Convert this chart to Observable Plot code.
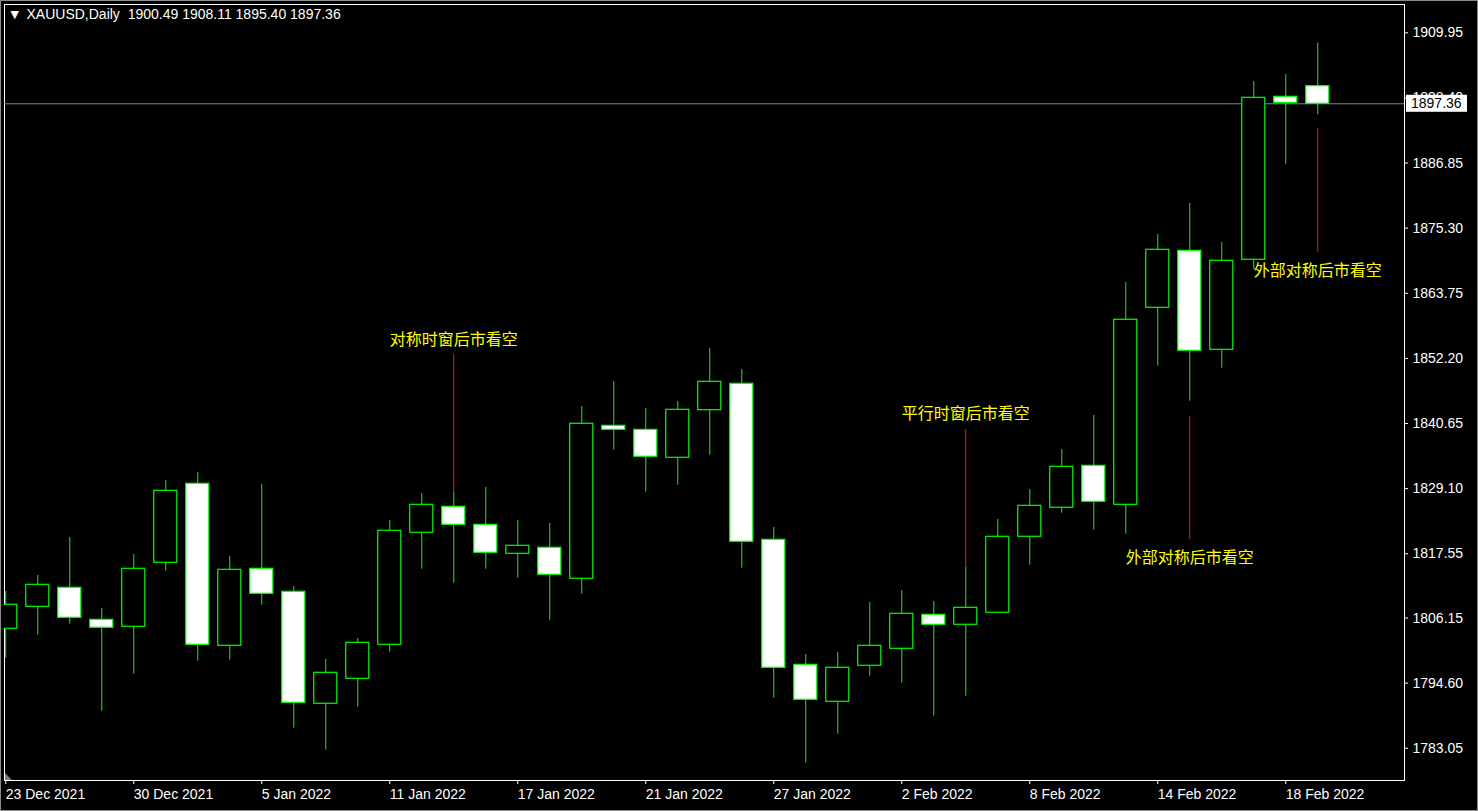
<!DOCTYPE html>
<html>
<head>
<meta charset="utf-8">
<script src="https://cdn.jsdelivr.net/npm/d3@7"></script>
<script src="https://cdn.jsdelivr.net/npm/@observablehq/plot@0.6"></script>
<style>
  html, body { margin: 0; padding: 0; background: #000; }
  #chart svg { display: block; }
</style>
</head>
<body>
<div id="chart"></div>
<script>
// ---- data ----
const dates = ["23 Dec 2021","27 Dec 2021","28 Dec 2021","29 Dec 2021","30 Dec 2021","31 Dec 2021",
  "3 Jan 2022","4 Jan 2022","5 Jan 2022","6 Jan 2022","7 Jan 2022","10 Jan 2022","11 Jan 2022",
  "12 Jan 2022","13 Jan 2022","14 Jan 2022","17 Jan 2022","18 Jan 2022","19 Jan 2022","20 Jan 2022",
  "21 Jan 2022","24 Jan 2022","25 Jan 2022","26 Jan 2022","27 Jan 2022","28 Jan 2022","31 Jan 2022",
  "1 Feb 2022","2 Feb 2022","3 Feb 2022","4 Feb 2022","7 Feb 2022","8 Feb 2022","9 Feb 2022",
  "10 Feb 2022","11 Feb 2022","14 Feb 2022","15 Feb 2022","16 Feb 2022","17 Feb 2022","18 Feb 2022","21 Feb 2022"];
const open = [1804.24,1808.14,1811.51,1805.83,1804.59,1815.94,1829.96,1801.22,1814.88,1810.80,1790.94,1795.37,
  1801.40,1821.27,1825.88,1822.68,1817.54,1818.61,1813.11,1840.24,1839.53,1834.57,1843.01,1847.69,1820.02,
  1797.85,1791.29,1797.68,1800.69,1806.72,1804.95,1807.08,1820.56,1825.70,1833.15,1826.23,1861.17,1871.28,
  1853.72,1869.69,1898.60,1900.49];
const high = [1810.85,1813.69,1820.43,1807.84,1817.42,1830.54,1831.96,1817.06,1829.83,1811.74,1798.79,1802.52,
  1823.45,1828.24,1828.41,1829.30,1823.45,1822.91,1843.67,1848.10,1843.31,1844.55,1853.95,1850.23,1822.21,
  1799.68,1800.03,1808.90,1811.03,1809.08,1815.16,1823.62,1828.95,1836.04,1842.07,1865.66,1874.17,1879.67,
  1872.76,1901.31,1902.55,1908.11];
const low = [1799.02,1803.10,1805.05,1789.62,1796.19,1814.45,1798.49,1798.67,1808.42,1786.61,1782.71,1790.33,
  1800.09,1814.81,1812.33,1814.81,1813.21,1805.76,1810.38,1835.92,1828.47,1829.71,1835.03,1814.99,1791.93,
  1780.40,1785.54,1795.83,1794.59,1788.74,1792.28,1807.08,1815.52,1824.74,1821.73,1821.02,1850.82,1844.61,
  1850.46,1867.91,1886.64,1895.40];
const close = [1808.50,1812.04,1806.19,1804.42,1814.88,1828.71,1801.40,1814.70,1810.45,1791.11,1796.43,1801.75,
  1821.62,1826.23,1822.68,1817.72,1818.96,1813.82,1840.60,1839.53,1834.75,1843.08,1848.05,1819.67,1797.32,
  1791.64,1797.32,1801.22,1806.90,1804.95,1807.96,1820.56,1826.05,1832.97,1826.76,1859.05,1871.46,1853.55,
  1869.51,1898.42,1897.50,1897.36];

const yTicks = [1909.95,1898.40,1886.85,1875.30,1863.75,1852.20,1840.65,1829.10,1817.55,1806.15,1794.60,1783.05];
const xTickIdx = [0,4,8,12,16,20,24,28,32,36,40];

const symbol = "XAUUSD,Daily";
const lastPrice = 1897.36;

const annIdx = [14, 30, 37, 41];
const annText = ["对称时窗后市看空", "平行时窗后市看空", "外部对称后市看空", "外部对称后市看空"];
const annTextY = [1855.55, 1842.43, 1816.88, 1867.79];
const annLineTop = [1852.89, 1839.59, 1841.89, 1892.98];
const annLineBottom = [1828.41, 1815.16, 1820.02, 1871.04];

// ---- tables ----
const bars = dates.map((d, i) => ({i, date: d, open: open[i], high: high[i], low: low[i], close: close[i]}));
const anns = annIdx.map((k, j) => ({i: k, text: annText[j], ty: annTextY[j], top: annLineTop[j], bottom: annLineBottom[j]}));
const last = bars[bars.length - 1];
const header = `${symbol}  ${last.open.toFixed(2)} ${last.high.toFixed(2)} ${last.low.toFixed(2)} ${last.close.toFixed(2)}`;

const GREEN = "#00ff00";
const half = 0.36;

const plot = Plot.plot({
  width: 1478,
  height: 811,
  marginLeft: 4,
  marginRight: 74,
  marginTop: 4,
  marginBottom: 31,
  style: {background: "#000", color: "#fff", fontFamily: "Liberation Sans, Arial, sans-serif", fontSize: "14px"},
  x: {type: "linear", domain: [-0.04, 43.71], axis: null},
  y: {domain: [1777.33, 1914.97], axis: null},
  marks: [
    Plot.frame({stroke: "#fff"}),
    Plot.axisY(yTicks, {anchor: "right", tickSize: 3, tickPadding: 5, tickFormat: d => d.toFixed(2),
      fontSize: 14, label: null, stroke: "#fff"}),
    Plot.axisX(xTickIdx, {anchor: "bottom", tickSize: 4, tickPadding: 5, tickFormat: i => dates[i],
      textAnchor: "start", fontSize: 14, label: null, stroke: "#fff"}),
    Plot.ruleY([lastPrice], {stroke: "#778899", strokeWidth: 1}),
    Plot.ruleX(bars, {x: "i", y1: "low", y2: "high", stroke: GREEN, strokeWidth: 1, clip: "frame"}),
    Plot.rect(bars, {x1: d => d.i - half, x2: d => d.i + half, y1: "open", y2: "close",
      fill: d => d.close > d.open ? "#000" : "#fff", stroke: GREEN, strokeWidth: 1.2, clip: "frame"}),
    Plot.ruleX(anns, {x: "i", y1: "bottom", y2: "top", stroke: "#ff1a1a", strokeWidth: 1}),
    Plot.text(anns, {x: "i", y: "ty", text: "text", fill: "#ffff00", fontSize: 16,
      fontFamily: "Noto Sans CJK SC, sans-serif"}),
    Plot.text([header], {frameAnchor: "top-left", dx: 22, dy: 10, lineAnchor: "middle", textAnchor: "start",
      fill: "#fff", fontSize: 14}),
    Plot.text(["▼"], {frameAnchor: "top-left", dx: 6, dy: 10, lineAnchor: "middle", textAnchor: "start",
      fill: "#fff", fontSize: 11, fontFamily: "DejaVu Sans"})
  ]
});

// price label box on the right axis, positioned through the y scale
const svg = d3.select(plot);
const yS = plot.scale("y");
const py = yS.apply(lastPrice);
const g = svg.append("g");
g.append("rect").attr("x", 1406).attr("y", py - 8.5).attr("width", 61).attr("height", 17).attr("fill", "#fff");
g.append("text").attr("x", 1411).attr("y", py).attr("dy", "0.35em").attr("fill", "#000")
  .attr("text-anchor", "start")
  .attr("font-size", 14).attr("font-family", "Liberation Sans, Arial, sans-serif").text(lastPrice.toFixed(2));
// chart-shift marker at the bottom-left corner
svg.append("path").attr("d", "M5,773 L12,780 L5,780 Z").attr("fill", "#708090");
// window border
svg.append("rect").attr("x", 0.5).attr("y", 0.5).attr("width", 1477).attr("height", 810)
  .attr("fill", "none").attr("stroke", "#8c8c8c");

document.getElementById("chart").appendChild(plot);
</script>
</body>
</html>
